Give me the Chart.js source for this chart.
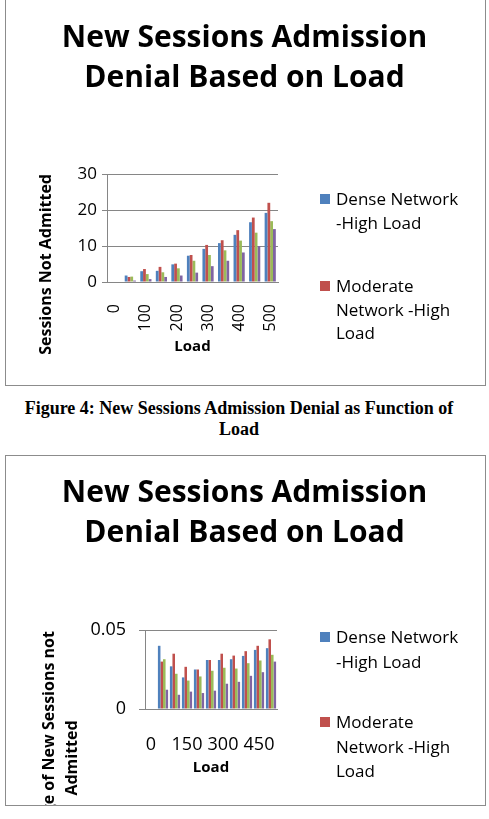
<!DOCTYPE html>
<html>
<head>
<meta charset="utf-8">
<script src="https://cdn.jsdelivr.net/npm/chart.js@4.4.1/dist/chart.umd.min.js"></script>
<style>
  body { margin: 0; background: #fff; width: 489px; height: 819px; overflow: hidden; position: relative; }
  .frame { position: absolute; left: 5px; width: 479px; border: 1px solid #8c8c8c; }
  .chartBox { position: absolute; left: 0; width: 489px; overflow: hidden; }
  .legend { position: absolute; left: 320px; margin: 0; padding: 0; list-style: none;
            font-family: 'Open Sans', sans-serif; font-size: 17px; color: #000; }
  .legend li { display: flex; align-items: flex-start; }
  .legend .box { flex: none; width: 10px; height: 10px; margin-right: 6px; }
  .legend .txt { width: 140px; }
  .legend .word { white-space: nowrap; }
  .caption { position: absolute; left: 0; width: 478px; top: 398px; text-align: center;
             font-family: 'Liberation Serif', serif; font-weight: bold; font-size: 18px; line-height: 21px; color: #000; }
</style>
</head>
<body>
<div class="frame" style="top:-1px;height:385px"></div>
<div class="chartBox" style="top:0;height:385px"><canvas id="chartTop"></canvas></div>
<ul class="legend" id="legendTop" style="top:187px;line-height:23.5px"></ul>

<div class="caption">Figure 4: New Sessions Admission Denial as Function of<br>Load</div>

<div class="frame" style="top:455px;height:349px"></div>
<div class="chartBox" style="top:455px;height:350px"><canvas id="chartBottom"></canvas></div>
<ul class="legend" id="legendBottom" style="top:625px;line-height:24.7px"></ul>

<script>
'use strict';

// ---- data ----
let loads = ['0', '50', '100', '150', '200', '250', '300', '350', '400', '450', '500'];
let seriesNames = ['Dense Network -High Load', 'Moderate Network -High Load',
                   'Dense Network -Low Load', 'Moderate Network -Low Load'];
let seriesColors = ['#4f81bd', '#c0504d', '#9bbb59', '#8064a2'];

// sessions not admitted
let deniedDenseHigh    = [0, 1.8, 3.0, 3.1, 4.9, 7.3, 9.2, 10.8, 13.1, 16.6, 19.2];
let deniedModerateHigh = [0, 1.4, 3.6, 4.2, 5.1, 7.5, 10.3, 11.6, 14.4, 17.9, 22.0];
let deniedDenseLow     = [0, 1.5, 2.2, 2.7, 3.8, 5.9, 7.5, 8.8, 11.5, 13.7, 16.9];
let deniedModerateLow  = [0, 0.4, 0.8, 1.4, 1.8, 2.6, 4.4, 5.9, 8.2, 10.0, 14.7];

// percentage of new sessions not admitted
let pctDenseHigh    = [0, 0.040, 0.027, 0.020, 0.025, 0.031, 0.031, 0.0315, 0.0336, 0.0374, 0.0385];
let pctModerateHigh = [0, 0.030, 0.035, 0.0267, 0.025, 0.031, 0.035, 0.0338, 0.0366, 0.040, 0.0441];
let pctDenseLow     = [0, 0.0315, 0.0223, 0.018, 0.0206, 0.0242, 0.0261, 0.0256, 0.029, 0.0307, 0.0343];
let pctModerateLow  = [0, 0.0122, 0.009, 0.011, 0.0101, 0.0116, 0.016, 0.0172, 0.021, 0.0233, 0.030];

let topTicks = [0, 10, 20, 30];
let bottomTicks = [0, 0.05];

Chart.defaults.font.family = "'Open Sans', sans-serif";
Chart.defaults.color = '#000';

let gridGray = '#868686';

// legend as html list, built from the chart's own legend items
let htmlLegend = {
  id: 'htmlLegend',
  afterUpdate(chart, args, opts) {
    let ul = document.getElementById(opts.containerID);
    ul.innerHTML = '';
    let items = chart.options.plugins.legend.labels.generateLabels(chart).slice(0, opts.count);
    items.forEach(item => {
      let li = document.createElement('li');
      li.style.marginBottom = opts.gap + 'px';
      let box = document.createElement('span');
      box.className = 'box';
      box.style.background = item.fillStyle;
      box.style.marginTop = opts.boxTop + 'px';
      let txt = document.createElement('span');
      txt.className = 'txt';
      // keep "-High" together, only break at spaces
      item.text.split(' ').forEach((word, i) => {
        if (i > 0) txt.appendChild(document.createTextNode(' '));
        let w = document.createElement('span');
        w.className = 'word';
        w.textContent = word;
        txt.appendChild(w);
      });
      li.appendChild(box);
      li.appendChild(txt);
      ul.appendChild(li);
    });
  }
};

// rotated multi line axis title, centred lower than the plot (as in the original)
let sideTitle = {
  id: 'sideTitle',
  afterDraw(chart, args, opts) {
    if (!opts.lines) return;
    let ctx = chart.ctx;
    let area = chart.chartArea;
    ctx.save();
    ctx.translate(area.left + opts.dx, area.bottom + opts.dy);
    ctx.rotate(-Math.PI / 2);
    ctx.font = opts.font;
    ctx.fillStyle = '#000';
    ctx.textAlign = 'center';
    ctx.textBaseline = 'middle';
    opts.lines.forEach((line, i) => ctx.fillText(line, 0, i * opts.lineHeight));
    ctx.restore();
  }
};

let makeDatasets = (series, catPct) => series.map((values, i) => ({
  label: seriesNames[i],
  data: values,
  backgroundColor: seriesColors[i],
  borderWidth: 0,
  categoryPercentage: catPct,
  barPercentage: 1.0
}));

let titleOpts = bottomPad => ({
  display: true,
  text: ['New Sessions Admission', 'Denial Based on Load'],
  font: { size: 30, weight: 'bold', lineHeight: '40px' },
  color: '#000',
  padding: { top: 18, bottom: bottomPad }
});

// empty axis on the right that keeps the room where the legend sits
let spacerAxis = width => ({
  type: 'linear',
  position: 'right',
  grid: { display: false },
  border: { display: false },
  ticks: { display: false },
  afterFit: scale => { scale.width = width; }
});

// ---- top chart: sessions not admitted ----
new Chart(document.getElementById('chartTop'), {
  type: 'bar',
  data: {
    labels: loads,
    datasets: makeDatasets([deniedDenseHigh, deniedModerateHigh, deniedDenseLow, deniedModerateLow], 0.72)
  },
  options: {
    responsive: true,
    maintainAspectRatio: false,
    animation: false,
    layout: { padding: 0 },
    plugins: {
      title: titleOpts(76),
      legend: { display: false },
      tooltip: { enabled: false },
      htmlLegend: { containerID: 'legendTop', count: 2, gap: 40, boxTop: 7 }
    },
    scales: {
      x: {
        grid: { display: false },
        border: { color: gridGray },
        ticks: {
          autoSkip: false,
          minRotation: 90,
          maxRotation: 90,
          padding: 14,
          font: { size: 16 },
          callback: function (value, index) {
            return index % 2 === 0 ? this.getLabelForValue(value) : '';
          }
        },
        title: { display: true, text: 'Load', font: { size: 15, weight: 'bold' }, padding: { top: 0, bottom: 29 } },
        afterFit: scale => { scale.height = 103; }
      },
      y: {
        min: topTicks[0],
        max: topTicks[topTicks.length - 1],
        afterBuildTicks: scale => { scale.ticks = topTicks.map(v => ({ value: v })); },
        grid: { color: gridGray, tickLength: 5 },
        border: { color: gridGray },
        ticks: { padding: 5, font: { size: 17 } },
        title: {
          display: true,
          text: 'Sessions Not Admitted',
          align: 'end',
          font: { size: 16, weight: 'bold' },
          padding: { top: 37, bottom: 0 }
        },
        afterFit: scale => { scale.width = 107; }
      },
      legendRoom: spacerAxis(211)
    }
  },
  plugins: [htmlLegend]
});

// ---- bottom chart: percentage not admitted ----
new Chart(document.getElementById('chartBottom'), {
  type: 'bar',
  data: {
    labels: loads,
    datasets: makeDatasets([pctDenseHigh, pctModerateHigh, pctDenseLow, pctModerateLow], 0.85)
  },
  options: {
    responsive: true,
    maintainAspectRatio: false,
    animation: false,
    layout: { padding: 0 },
    plugins: {
      title: titleOpts(77),
      legend: { display: false },
      tooltip: { enabled: false },
      htmlLegend: { containerID: 'legendBottom', count: 2, gap: 35.6, boxTop: 7.3 },
      sideTitle: {
        lines: ['Percentage of New Sessions not', 'Admitted'],
        font: "bold 16px 'Open Sans', sans-serif",
        lineHeight: 23.5,
        dx: -96,
        dy: 49
      }
    },
    scales: {
      x: {
        grid: { display: false },
        border: { color: gridGray },
        ticks: {
          autoSkip: false,
          maxRotation: 0,
          padding: 17,
          font: { size: 18 },
          callback: function (value, index) {
            return index % 3 === 0 ? this.getLabelForValue(value) : '';
          }
        },
        title: { display: true, text: 'Load', font: { size: 15, weight: 'bold' }, padding: { top: 0, bottom: 28 } },
        afterFit: scale => { scale.height = 96; }
      },
      y: {
        min: bottomTicks[0],
        max: bottomTicks[bottomTicks.length - 1],
        afterBuildTicks: scale => { scale.ticks = bottomTicks.map(v => ({ value: v })); },
        grid: { color: gridGray, tickLength: 6 },
        border: { color: gridGray },
        ticks: { padding: 13, font: { size: 18 } },
        afterFit: scale => { scale.width = 145; }
      },
      legendRoom: spacerAxis(212)
    }
  },
  plugins: [htmlLegend, sideTitle]
});
</script>
</body>
</html>
